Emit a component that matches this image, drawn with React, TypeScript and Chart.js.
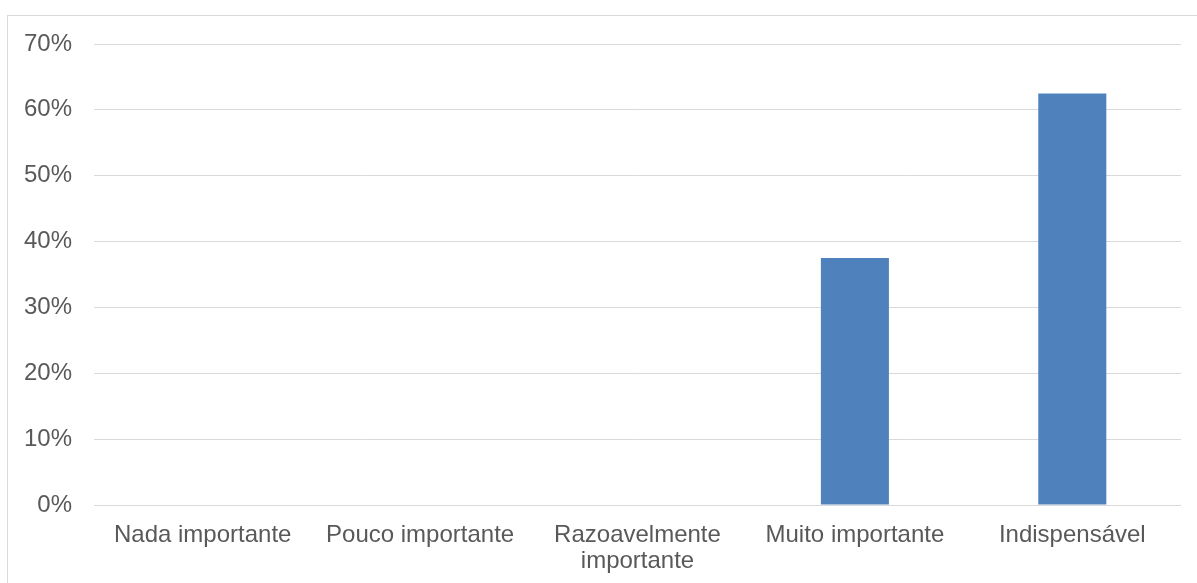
import React, { useEffect, useRef } from "react";
import { Chart, registerables } from "chart.js";

Chart.register(...registerables);

const categories: (string | string[])[] = [
  "Nada importante",
  "Pouco importante",
  ["Razoavelmente", "importante"],
  "Muito importante",
  "Indispensável",
];
const percentValues: number[] = [0, 0, 0, 37.5, 62.5];
const yMax = 70;
const yStep = 10;

const barColor = "#4F81BD";
const gridColor = "#D9D9D9";
const textColor = "#595959";
const fontFamily = "'Liberation Sans', Arial, sans-serif";

export default function App() {
  const canvasRef = useRef<HTMLCanvasElement | null>(null);

  useEffect(() => {
    const canvas = canvasRef.current;
    if (!canvas) return;
    const chart = new Chart(canvas, {
      type: "bar",
      data: {
        labels: categories,
        datasets: [
          {
            data: percentValues,
            backgroundColor: barColor,
            borderWidth: 0,
            barPercentage: 0.313,
            categoryPercentage: 1,
          },
        ],
      },
      options: {
        animation: false,
        responsive: false,
        maintainAspectRatio: false,
        layout: { padding: { top: 44, right: 16, bottom: 0, left: 0 } },
        plugins: {
          legend: { display: false },
          tooltip: { enabled: false },
        },
        scales: {
          x: {
            grid: { display: false, drawTicks: false },
            border: { display: false },
            ticks: {
              color: textColor,
              font: { family: fontFamily, size: 24, lineHeight: 1.1 },
              padding: 17,
              maxRotation: 0,
              minRotation: 0,
              autoSkip: false,
            },
            afterFit: (scale: any) => {
              scale.height = 78;
            },
          },
          y: {
            min: 0,
            max: yMax,
            grid: { color: gridColor, lineWidth: 1, drawTicks: false },
            border: { display: false },
            ticks: {
              stepSize: yStep,
              color: textColor,
              font: { family: fontFamily, size: 24 },
              padding: 22,
              callback: (v: any) => `${v}%`,
            },
            afterFit: (scale: any) => {
              scale.width = 94;
            },
          },
        },
      },
    });
    return () => chart.destroy();
  }, []);

  return (
    <div
      style={{
        position: "fixed",
        inset: 0,
        overflow: "hidden",
        background: "#ffffff",
      }}
    >
      <div
        style={{
          position: "absolute",
          left: 7,
          top: 15,
          width: 1400,
          height: 800,
          border: `1px solid ${gridColor}`,
          boxSizing: "border-box",
        }}
      />
      <canvas
        ref={canvasRef}
        width={1197}
        height={583}
        style={{ position: "absolute", left: 0, top: 0, width: 1197, height: 583 }}
      />
    </div>
  );
}
